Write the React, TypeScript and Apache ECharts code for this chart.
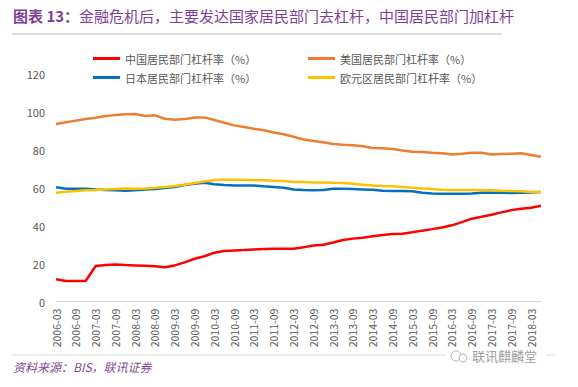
import React, { useEffect, useRef } from "react";
import * as echarts from "echarts";

const categories = [
  "2006-03","2006-06","2006-09","2006-12","2007-03","2007-06","2007-09","2007-12",
  "2008-03","2008-06","2008-09","2008-12","2009-03","2009-06","2009-09","2009-12",
  "2010-03","2010-06","2010-09","2010-12","2011-03","2011-06","2011-09","2011-12",
  "2012-03","2012-06","2012-09","2012-12","2013-03","2013-06","2013-09","2013-12",
  "2014-03","2014-06","2014-09","2014-12","2015-03","2015-06","2015-09","2015-12",
  "2016-03","2016-06","2016-09","2016-12","2017-03","2017-06","2017-09","2017-12",
  "2018-03","2018-06",
];

const chinaValues = [
  11.8, 10.9, 10.9, 10.9, 18.8, 19.3, 19.6, 19.3, 19.1, 18.9,
  18.6, 18.1, 19.1, 20.7, 22.6, 23.9, 25.8, 26.7, 27.0, 27.2,
  27.5, 27.7, 27.9, 27.9, 27.9, 28.6, 29.6, 30.0, 31.2, 32.5,
  33.2, 33.7, 34.4, 35.1, 35.6, 35.8, 36.5, 37.4, 38.2, 39.1,
  40.2, 41.9, 43.7, 44.7, 45.8, 47.0, 48.2, 48.9, 49.5, 50.5,
];

const usValues = [
  93.5, 94.4, 95.3, 96.1, 96.8, 97.7, 98.2, 98.6, 98.8, 97.7,
  98.1, 96.3, 95.8, 96.1, 97.0, 97.0, 95.6, 94.2, 92.8, 91.9,
  91.0, 90.2, 89.1, 88.1, 86.8, 85.4, 84.6, 83.9, 83.0, 82.6,
  82.3, 81.8, 80.9, 80.7, 80.4, 79.6, 78.9, 78.8, 78.4, 78.1,
  77.5, 77.9, 78.4, 78.4, 77.5, 77.7, 77.9, 78.1, 77.2, 76.3,
];

const japanValues = [
  60.2, 59.5, 59.5, 59.5, 59.1, 58.8, 58.6, 58.4, 58.6, 59.0,
  59.3, 59.8, 60.4, 61.4, 62.1, 62.6, 61.8, 61.4, 61.2, 61.2,
  61.1, 60.7, 60.4, 60.0, 59.1, 58.8, 58.6, 58.8, 59.5, 59.5,
  59.3, 59.1, 58.9, 58.4, 58.2, 58.2, 58.1, 57.4, 57.0, 56.8,
  56.8, 56.8, 57.0, 57.4, 57.4, 57.4, 57.2, 57.4, 57.5, 57.7,
];

const euroValues = [
  57.4, 57.9, 58.2, 58.6, 58.8, 59.1, 59.3, 59.6, 59.5, 59.6,
  60.0, 60.4, 60.9, 61.6, 62.5, 63.3, 64.0, 64.2, 64.2, 64.2,
  63.9, 63.9, 63.7, 63.5, 63.0, 63.0, 62.8, 62.8, 62.6, 62.5,
  62.1, 61.6, 61.2, 60.9, 60.7, 60.4, 60.0, 59.6, 59.3, 58.9,
  58.8, 58.8, 58.8, 58.8, 58.6, 58.4, 58.2, 58.1, 57.7, 57.7,
];

const seriesNames = [
  "中国居民部门杠杆率（%）",
  "美国居民部门杠杆率（%）",
  "日本居民部门杠杆率（%）",
  "欧元区居民部门杠杆率（%）",
];

const seriesColors = ["#FF0000", "#ED7D31", "#0070C0", "#FFC000"];

const FONT = "'Noto Sans CJK SC', 'Noto Sans', sans-serif";

export default function App() {
  const ref = useRef<HTMLDivElement>(null);

  useEffect(() => {
    if (!ref.current) return;
    const chart = echarts.init(ref.current, undefined, { renderer: "svg" });
    const values = [chinaValues, usValues, japanValues, euroValues];
    const legendCommon = {
      orient: "vertical" as const,
      top: 47,
      itemWidth: 27,
      itemHeight: 3,
      itemGap: 6,
      icon: "rect",
      textStyle: { color: "#595959", fontSize: 11, fontFamily: FONT, lineHeight: 13 },
    };
    chart.setOption({
      animation: false,
      backgroundColor: "#ffffff",
      textStyle: { fontFamily: FONT },
      grid: { left: 56, right: 37, top: 73.7, bottom: 85.3, containLabel: false },
      legend: [
        { ...legendCommon, left: 88, data: [seriesNames[0], seriesNames[2]] },
        { ...legendCommon, left: 303, data: [seriesNames[1], seriesNames[3]] },
      ],
      xAxis: {
        type: "category",
        data: categories,
        boundaryGap: false,
        axisLine: { show: true, lineStyle: { color: "#d9d9d9", width: 1 } },
        axisTick: { show: false },
        axisLabel: {
          rotate: 90,
          interval: 1,
          color: "#595959",
          fontSize: 10.5,
          fontFamily: FONT,
          margin: 7,
        },
        splitLine: { show: false },
      },
      yAxis: {
        type: "value",
        min: 0,
        max: 120,
        interval: 20,
        axisLine: { show: false },
        axisTick: { show: false },
        splitLine: { show: false },
        axisLabel: { color: "#595959", fontSize: 11, fontFamily: FONT, margin: 11 },
      },
      series: values.map((v, i) => ({
        name: seriesNames[i],
        type: "line",
        data: v,
        symbol: "none",
        smooth: false,
        color: seriesColors[i],
        lineStyle: { color: seriesColors[i], width: 2.5 },
        z: [4, 2, 3, 3][i],
      })),
      graphic: [
        {
          type: "text",
          left: 13,
          top: 8,
          style: {
            text: "{b|图表 13：}{n|金融危机后，主要发达国家居民部门去杠杆，中国居民部门加杠杆}",
            rich: {
              b: { fontSize: 15, fontWeight: "bold", fill: "#7F3F98", fontFamily: FONT },
              n: { fontSize: 15, fill: "#7F3F98", fontFamily: FONT },
            },
          },
        },
        {
          type: "line",
          shape: { x1: 12, y1: 34, x2: 502, y2: 34 },
          style: { stroke: "#dcdcdc", lineWidth: 2 },
        },
        {
          type: "line",
          shape: { x1: 12, y1: 355, x2: 555, y2: 355 },
          style: { stroke: "#d9d9d9", lineWidth: 1 },
        },
        {
          type: "rect",
          shape: { x: 446, y: 348, width: 100, height: 16 },
          style: { fill: "#ffffff" },
        },
        {
          type: "circle",
          shape: { cx: 456, cy: 356, r: 5 },
          style: { fill: "none", stroke: "#b0b0b0", lineWidth: 1 },
        },
        {
          type: "circle",
          shape: { cx: 463, cy: 358, r: 4 },
          style: { fill: "#ffffff", stroke: "#b0b0b0", lineWidth: 1 },
        },
        {
          type: "text",
          left: 472,
          top: 349,
          style: { text: "联讯麒麟堂", fontSize: 13, fill: "#a0a0a0", fontFamily: FONT },
        },
        {
          type: "text",
          left: 13,
          top: 360,
          style: {
            text: "资料来源：BIS，联讯证券",
            fontSize: 12,
            fontStyle: "italic",
            fill: "#7F4A93",
            fontFamily: FONT,
          },
        },
      ],
    });
    return () => chart.dispose();
  }, []);

  return (
    <div
      ref={ref}
      style={{ position: "fixed", left: 0, top: 0, width: 578, height: 387, background: "#fff" }}
    />
  );
}
